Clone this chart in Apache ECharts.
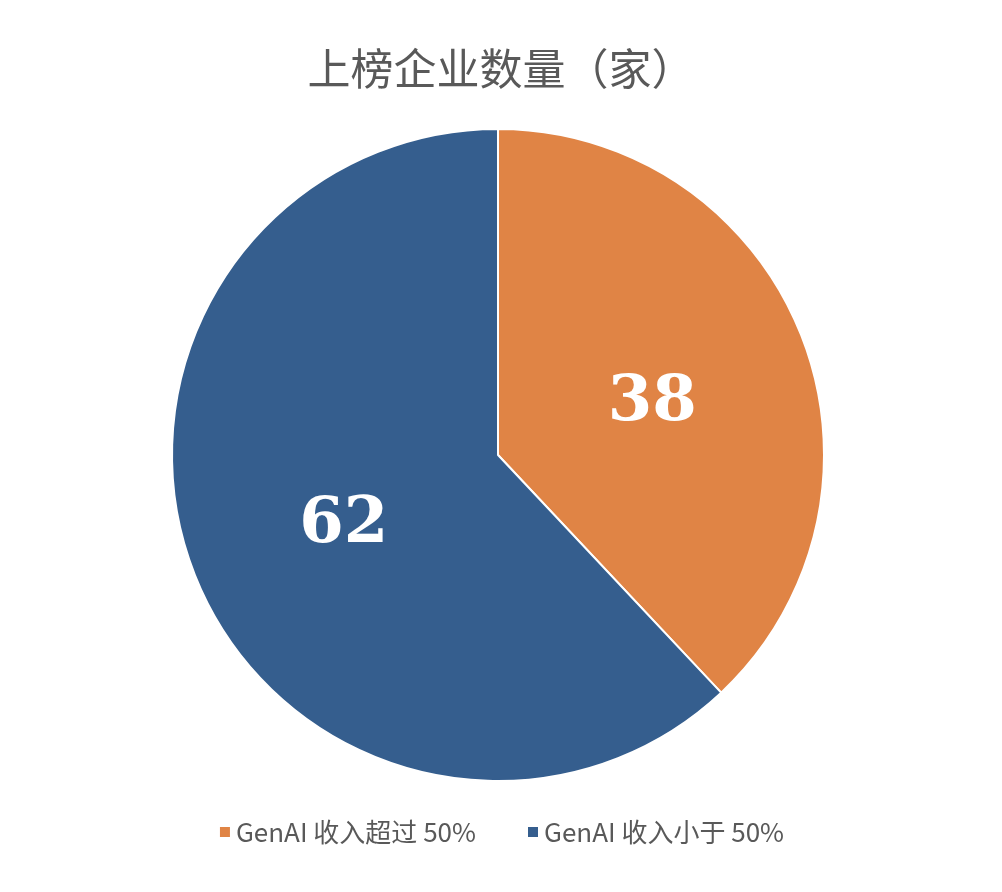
<!DOCTYPE html>
<html>
<head>
<meta charset="utf-8">
<title>上榜企业数量（家）</title>
<script src="https://cdn.jsdelivr.net/npm/echarts@6/dist/echarts.min.js"></script>
<style>
  html, body { margin: 0; padding: 0; background: #fff; }
  #chart { width: 1002px; height: 892px; }
</style>
</head>
<body>
<div id="chart"></div>
<script>
const categories = ['GenAI 收入超过 50%', 'GenAI 收入小于 50%'];
const counts = [38, 62];
const colors = ['#E08445', '#355E8E'];

let pieData = [];
for (var i = 0; i < categories.length; i++) {
  pieData.push({
    name: categories[i],
    value: counts[i],
    itemStyle: { color: colors[i] }
  });
}

var myChart = echarts.init(document.getElementById('chart'));
myChart.setOption({
  animation: false,
  title: {
    text: '上榜企业数量（家）',
    left: 'center',
    top: 42,
    textStyle: {
      fontFamily: 'Noto Sans CJK SC',
      fontSize: 43,
      fontWeight: 'normal',
      color: '#595959'
    }
  },
  legend: {
    data: categories,
    top: 814,
    left: 'center',
    icon: 'rect',
    itemWidth: 12,
    itemHeight: 12,
    itemGap: 50,
    textStyle: {
      fontFamily: 'Noto Sans CJK SC',
      fontSize: 26,
      color: '#595959'
    }
  },
  series: [
    {
      type: 'pie',
      center: [498, 455],
      radius: 326,
      startAngle: 90,
      clockwise: true,
      data: pieData,
      itemStyle: { borderColor: '#fff', borderWidth: 2 },
      label: {
        show: true,
        position: 'inside',
        formatter: '{c}',
        color: '#fff',
        fontFamily: 'DejaVu Serif',
        fontWeight: 'bold',
        fontSize: 64
      },
      labelLayout: { dy: 9 },
      labelLine: { show: false },
      emphasis: { disabled: true }
    }
  ]
});
</script>
</body>
</html>
